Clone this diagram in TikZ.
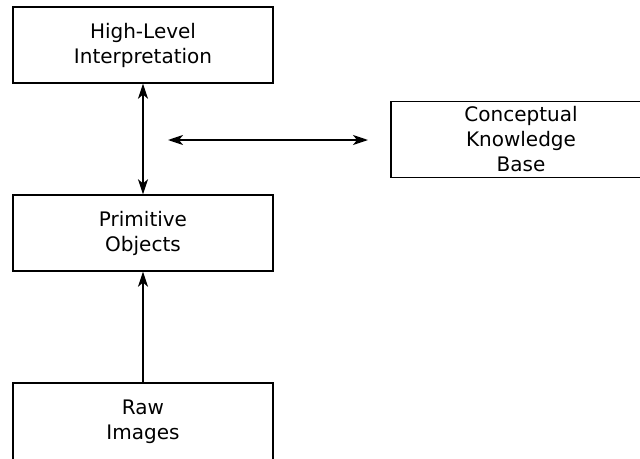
\documentclass[tikz,border=0pt]{standalone}
\usepackage{fontspec}
\setmainfont{DejaVu Sans}
\usetikzlibrary{arrows.meta}
\begin{document}
\begin{tikzpicture}[x=1pt,y=-1pt,
  block/.style={draw, line width=1.4pt, minimum width=260pt, minimum height=76pt,
    inner sep=0pt, align=center, font=\fontsize{20}{25}\selectfont},
  tip/.style={Stealth[length=15pt,width=10pt,inset=4pt]},
  link/.style={line width=1.6pt, {Stealth[length=15pt,width=10pt,inset=4pt]}-{Stealth[length=15pt,width=10pt,inset=4pt]}},
  uplink/.style={line width=1.6pt, -{Stealth[length=15pt,width=10pt,inset=4pt]}}]
  \useasboundingbox (0,0) rectangle (640,458);
  \node[block] (hli) at (143,45) {High-Level\\Interpretation};
  \node[block] (prim) at (143,233) {Primitive\\Objects};
  \node[block, minimum height=78pt] (raw) at (143,422) {Raw\\Images};
  \node[block] (kb) at (521,139.5) {Conceptual\\Knowledge\\Base};
  \coordinate (hl) at (168,140);
  \coordinate (hr) at (368,140);
  \draw[link] (hli.south) -- (prim.north);
  \draw[link] (hl) -- (hr);
  \draw[uplink] (raw.north) -- (prim.south);
\end{tikzpicture}
\end{document}
